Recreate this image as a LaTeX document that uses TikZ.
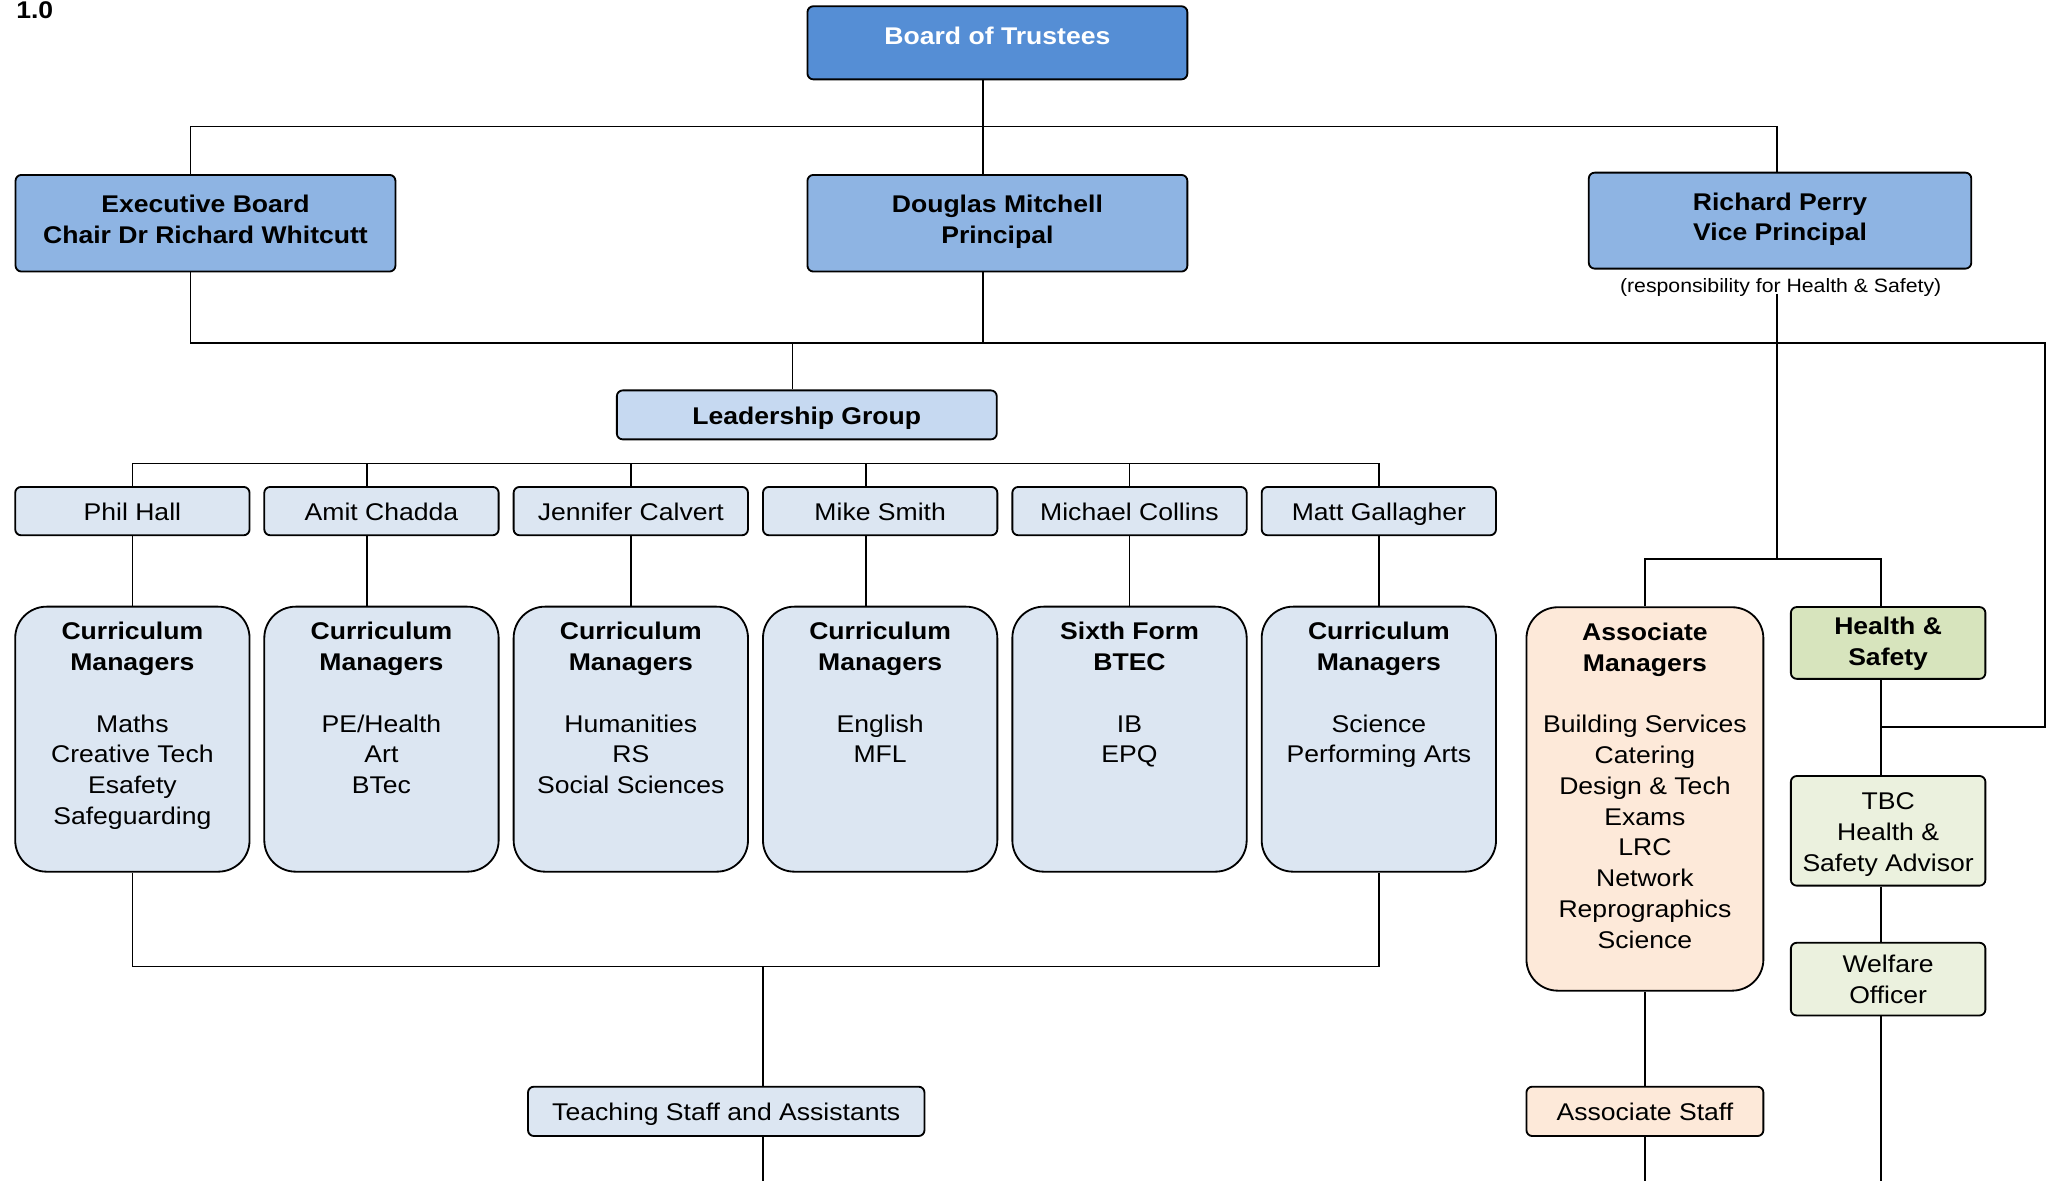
\documentclass[tikz,border=0pt]{standalone}
\usepackage{fontspec}
\setmainfont{Liberation Sans}[FakeStretch=1.1]
\usetikzlibrary{calc}
\newcommand\fnorm{\fontsize{18.5}{23.6}\selectfont}
\newcommand\fsmall{\fontsize{14.8}{17}\selectfont}
\newcommand\st{\vrule height 13.6pt depth 0pt width 0pt}
\definecolor{cTop}{HTML}{558ED5}
\definecolor{cMid}{HTML}{8EB4E3}
\definecolor{cLead}{HTML}{C6D9F1}
\definecolor{cLight}{HTML}{DCE6F2}
\definecolor{cPeach}{HTML}{FDE9D9}
\definecolor{cHS}{HTML}{D7E4BD}
\definecolor{cHSl}{HTML}{EBF1DE}
\tikzset{
  boxbase/.style={draw=black, line width=1.4pt, rounded corners=4.5pt, inner sep=0pt, align=center, font=\fnorm},
  onebox/.style={boxbase, text height=14.4pt, text depth=0pt},
  bigbox/.style={draw=black, line width=1.4pt, rounded corners=24pt, inner sep=0pt, fill=cLight},
  inbox/.style={inner sep=0pt, align=center, font=\fnorm, anchor=north},
  conn/.style={line width=1.3pt, draw=black},
}
\begin{document}
\begin{tikzpicture}[x=1pt,y=-1pt]
\useasboundingbox (0,0) rectangle (1568,904);
\node[anchor=base west, inner sep=0pt, font=\fnorm\bfseries] (ver) at (12.3,13.8) {1.0};

% top level
\node[onebox, fill=cTop, text=white, minimum width=291pt, minimum height=56pt, font=\fnorm\bfseries, text depth=11.6pt] (bot) at (764,32.8) {Board of Trustees};
\node[boxbase, fill=cMid, minimum width=291pt, minimum height=74pt] (exec) at (157.4,171) {};
\node[inbox, font=\fnorm\bfseries] (exect) at ($(exec.center)+(0,-21.8)$) {\st Executive Board\\Chair Dr Richard Whitcutt};
\node[boxbase, fill=cMid, minimum width=291pt, minimum height=74pt] (doug) at (764,171) {};
\node[inbox, font=\fnorm\bfseries] (dougt) at ($(doug.center)+(0,-21.8)$) {\st Douglas Mitchell\\Principal};
\node[boxbase, fill=cMid, minimum width=293pt, minimum height=73.5pt] (perry) at (1363.5,169) {};
\node[inbox, font=\fnorm\bfseries] (perryt) at ($(perry.center)+(0,-21.8)$) {\st Richard Perry\\Vice Principal};
\node[inner sep=0pt, font=\fsmall] (resp) at (1364,220.5) {(responsibility for Health \& Safety)};

\node[onebox, fill=cLead, minimum width=291pt, minimum height=37.5pt, font=\fnorm\bfseries] (lead) at (618,317.8) {Leadership Group};

% names
\foreach \n/\x/\t in {ph/101.4/Phil Hall, ac/292.2/Amit Chadda, jc/483.2/Jennifer Calvert, ms/674.2/Mike Smith, mc/865.2/Michael Collins, mg/1056.2/Matt Gallagher}{
  \node[onebox, fill=cLight, minimum width=179.5pt, minimum height=37pt] (\n) at (\x,391.5) {\t};
}
% curriculum boxes
\foreach \n/\x in {c1/101.4, c2/292.2, c3/483.2, c4/674.2, c5/865.2, c6/1056.2}{
  \node[bigbox, minimum width=179.5pt, minimum height=203pt] (\n) at (\x,566.2) {};
}
\node[inbox] (c1t) at ($(c1.north)+(0,12.2)$) {\st\textbf{Curriculum}\\\textbf{Managers}\\\mbox{}\\Maths\\Creative Tech\\Esafety\\Safeguarding};
\node[inbox] (c2t) at ($(c2.north)+(0,12.2)$) {\st\textbf{Curriculum}\\\textbf{Managers}\\\mbox{}\\PE/Health\\Art\\BTec};
\node[inbox] (c3t) at ($(c3.north)+(0,12.2)$) {\st\textbf{Curriculum}\\\textbf{Managers}\\\mbox{}\\Humanities\\RS\\Social Sciences};
\node[inbox] (c4t) at ($(c4.north)+(0,12.2)$) {\st\textbf{Curriculum}\\\textbf{Managers}\\\mbox{}\\English\\MFL};
\node[inbox] (c5t) at ($(c5.north)+(0,12.2)$) {\st\textbf{Sixth Form}\\\textbf{BTEC}\\\mbox{}\\IB\\EPQ};
\node[inbox] (c6t) at ($(c6.north)+(0,12.2)$) {\st\textbf{Curriculum}\\\textbf{Managers}\\\mbox{}\\Science\\Performing Arts};

\node[onebox, fill=cLight, minimum width=303.7pt, minimum height=37.8pt] (teach) at (556.3,851.3) {Teaching Staff and Assistants};

% right branch
\node[bigbox, fill=cPeach, minimum width=181.5pt, minimum height=293.7pt] (assoc) at (1260,612) {};
\node[inbox] (assoct) at ($(assoc.north)+(0,12.2)$) {\st\textbf{Associate}\\\textbf{Managers}\\\mbox{}\\Building Services\\Catering\\Design \& Tech\\Exams\\LRC\\Network\\Reprographics\\Science};
\node[onebox, fill=cPeach, minimum width=181.5pt, minimum height=37.8pt] (astaff) at (1260,851.3) {Associate Staff};

\node[boxbase, fill=cHS, minimum width=149pt, minimum height=55pt] (hs) at (1446.3,492.5) {};
\node[inbox, font=\fnorm\bfseries] (hst) at ($(hs.center)+(0,-20.2)$) {\st Health \&\\Safety};
\node[boxbase, fill=cHSl, minimum width=149pt, minimum height=84pt] (tbc) at (1446.3,636.4) {};
\node[inbox] (tbct) at ($(tbc.center)+(0,-30)$) {\st TBC\\Health \&\\Safety Advisor};
\node[boxbase, fill=cHSl, minimum width=149pt, minimum height=55.7pt] (welf) at (1446.3,750) {};
\node[inbox] (welft) at ($(welf.center)+(0,-19)$) {\st Welfare\\Officer};

% coordinates for buses
\coordinate (tbL) at (146,97);
\coordinate (tbR) at (1361,97);
\coordinate (sbL) at (146,263);
\coordinate (sbR) at (1566.4,263);
\coordinate (pv) at (1361,225);
\coordinate (abus) at (1361,428);
\coordinate (hsj) at (1441,557);
\coordinate (nbus) at (0,355);
\coordinate (tb) at (584.5,740.3);
\coordinate (edge) at (0,906);

% connectors top
\draw[conn] ([xshift=-11pt]bot.south) -- ([xshift=-11pt]doug.north);
\draw[conn] (tbL |- exec.north) -- (tbL) -- (tbR) -- (tbR |- perry.north);
\draw[conn] (tbL |- exec.south) -- (sbL) -- (sbR) -- (sbR |- hsj) -- (hsj);
\draw[conn] ([xshift=-11pt]doug.south) -- ([xshift=-11pt]doug.south |- sbL);
\draw[conn] ([xshift=-11pt]lead.north |- sbL) -- ([xshift=-11pt]lead.north);

% names bus
\draw[conn] (ph.north |- nbus) -- (mg.north |- nbus);
\draw[conn] (ph.north |- nbus) -- (ph.north);
\draw[conn] ([xshift=-11pt]ac.north |- nbus) -- ([xshift=-11pt]ac.north);
\draw[conn] (jc.north |- nbus) -- (jc.north);
\draw[conn] ([xshift=-11pt]ms.north |- nbus) -- ([xshift=-11pt]ms.north);
\draw[conn] (mc.north |- nbus) -- (mc.north);
\draw[conn] (mg.north |- nbus) -- (mg.north);
\draw[conn] (ph.south) -- (c1.north);
\draw[conn] ([xshift=-11pt]ac.south) -- ([xshift=-11pt]ac.south |- c2.north);
\draw[conn] (jc.south) -- (c3.north);
\draw[conn] ([xshift=-11pt]ms.south) -- ([xshift=-11pt]ms.south |- c4.north);
\draw[conn] (mc.south) -- (c5.north);
\draw[conn] (mg.south) -- (c6.north);

% teaching
\draw[conn] (c1.south) |- (tb) -| (c6.south);
\draw[conn] (tb) -- (tb |- teach.north);
\draw[conn] (tb |- teach.south) -- (tb |- edge);

% right branch
\draw[conn] (pv) -- (abus);
\draw[conn] (assoc.north) -- (assoc.north |- abus) -- (hsj |- abus) -- (hsj |- hs.north);
\draw[conn] (hsj |- hs.south) -- (hsj |- tbc.north);
\draw[conn] (hsj |- tbc.south) -- (hsj |- welf.north);
\draw[conn] (hsj |- welf.south) -- (hsj |- edge);
\draw[conn] (assoc.south) -- (astaff.north);
\draw[conn] (astaff.south) -- (astaff.south |- edge);
\end{tikzpicture}
\end{document}
